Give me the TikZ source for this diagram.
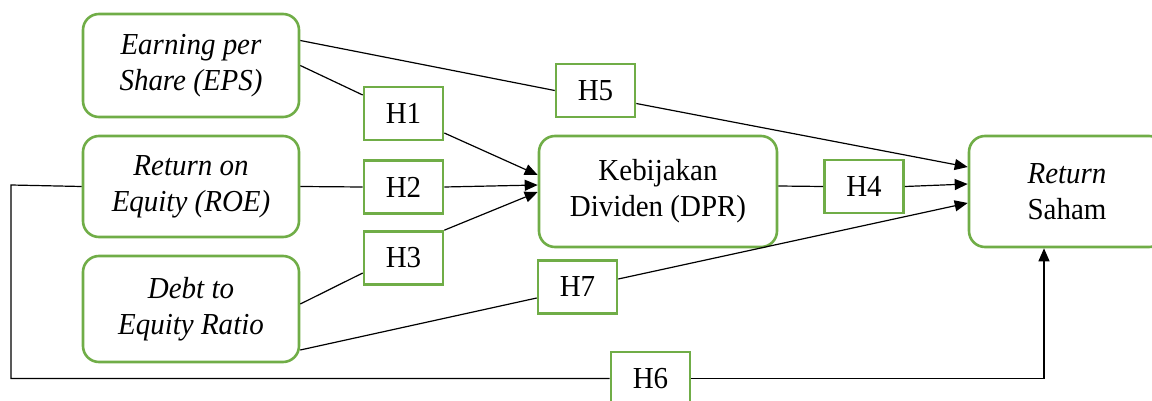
\documentclass[tikz,border=0pt]{standalone}
\usepackage{fontspec}
\setmainfont{Liberation Serif}[FakeStretch=0.95]
\usetikzlibrary{arrows.meta,calc}
\definecolor{boxgreen}{RGB}{112,173,71}
\begin{document}
\begin{tikzpicture}[x=1pt,y=-1pt,
  every node/.style={font=\fontsize{30.5}{36}\selectfont, text=black},
  varbox/.style={draw=boxgreen, line width=2.6pt, rounded corners=16pt, align=center, inner sep=0pt},
  hbox/.style={draw=boxgreen, line width=2.6pt, inner sep=0pt, minimum width=79pt, minimum height=53pt, fill=white},
  link/.style={draw=black, line width=1.2pt},
  arr/.style={link, -{Triangle[length=13pt,width=11pt]}}]
\useasboundingbox (0,0) rectangle (1152,401);
\clip (0,0) rectangle (1152,401);
% variable boxes
\node[varbox, minimum width=216pt, minimum height=103pt] (EPS) at (191,65.5) {\textit{Earning per}\\\textit{Share (EPS)}};
\node[varbox, minimum width=216pt, minimum height=101pt] (ROE) at (191,186.5) {\textit{Return on}\\\textit{Equity (ROE)}};
\node[varbox, minimum width=216pt, minimum height=106pt] (DER) at (191,309) {\textit{Debt to}\\\textit{Equity Ratio}};
\node[varbox, minimum width=238pt, minimum height=111pt] (DPR) at (658,191.5) {Kebijakan\\Dividen (DPR)};
\node[varbox, minimum width=196pt, minimum height=111pt] (RS) at (1067,191.5) {\textit{Return}\\Saham};
% hypothesis boxes
\node[hbox] (H1) at (403.5,113.5) {H1};
\node[hbox] (H2) at (403.5,187) {H2};
\node[hbox] (H3) at (403.5,258) {H3};
\node[hbox] (H5) at (595.5,90.5) {H5};
\node[hbox] (H4) at (864,186.5) {H4};
\node[hbox] (H7) at (577.5,287) {H7};
\node[hbox] (H6) at (650.5,378.5) {H6};
\coordinate (c1) at (11,185);
\coordinate (c2) at (11,378.5);
% connectors
\draw[link] ($(EPS.east)+(0,-25)$) -- (H5.west);
\draw[arr] ($(H5.east)+(0,13)$) -- ($(RS.west)+(0,-24.5)$);
\draw[link] (EPS.east) -- ($(H1.west)+(0,-18.5)$);
\draw[arr] ($(H1.east)+(0,19.5)$) -- ($(DPR.west)+(0,-16.5)$);
\draw[link] (ROE.east) -- (H2.west);
\draw[arr] (H2.east) -- ($(DPR.west)+(0,-6.5)$);
\draw[link] ($(DER.east)+(0,-5)$) -- ($(H3.west)+(0,15)$);
\draw[arr] (H3.north east) -- ($(DPR.west)+(0,0.5)$);
\draw[link] ($(DER.east)+(0,41)$) -- ($(H7.west)+(0,11)$);
\draw[arr] ($(H7.east)+(0,-8)$) -- ($(RS.west)+(0,11.5)$);
\draw[link] ($(DPR.east)+(0,-5.5)$) -- (H4.west);
\draw[arr] (H4.east) -- ($(RS.west)+(0,-7.5)$);
\draw[link] (ROE.west) -- (c1) -- (c2) -- (H6.west);
\draw[arr] (H6.east) -| ($(RS.south)+(-23,0)$);
\end{tikzpicture}
\end{document}
